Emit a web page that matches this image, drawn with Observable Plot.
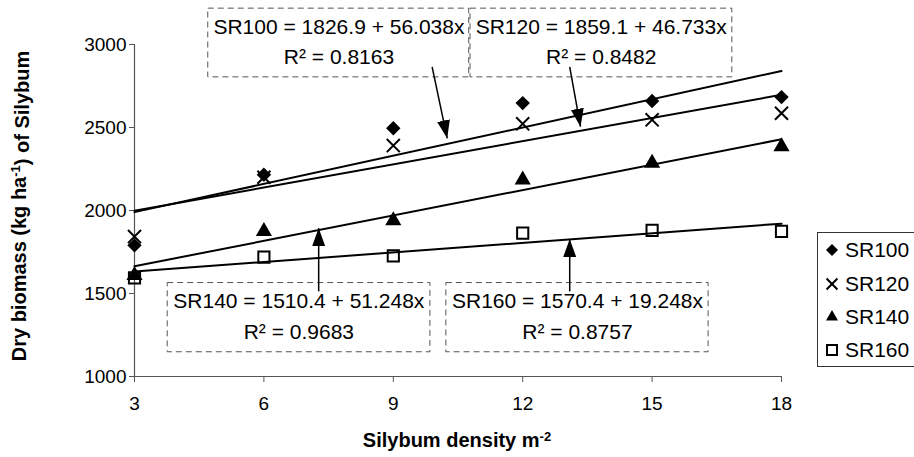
<!DOCTYPE html>
<html><head><meta charset="utf-8">
<script src="https://cdn.jsdelivr.net/npm/d3@7"></script>
<script src="https://cdn.jsdelivr.net/npm/@observablehq/plot@0.6"></script>
<style>body{margin:0;background:#fff} #chart{width:914px;height:457px;overflow:hidden}</style>
</head><body><div id="chart"></div>
<script>
// ---- data ----
const density = [3, 6, 9, 12, 15, 18];
const sr100 = [1790, 2215, 2496, 2647, 2660, 2683];
const sr120 = [1843, 2200, 2391, 2522, 2546, 2586];
const sr140 = [1610, 1874, 1940, 2185, 2285, 2385];
const sr160 = [1594, 1719, 1727, 1864, 1880, 1874];
const seriesNames = ["SR100", "SR120", "SR140", "SR160"];
const xTicks = [3, 6, 9, 12, 15, 18];
const yTicks = [1000, 1500, 2000, 2500, 3000];
const equations = ["SR100 = 1826.9 + 56.038x", "SR120 = 1859.1 + 46.733x", "SR140 = 1510.4 + 51.248x", "SR160 = 1570.4 + 19.248x"];
const r2Labels = ["R\u00B2 = 0.8163", "R\u00B2 = 0.8482", "R\u00B2 = 0.9683", "R\u00B2 = 0.8757"];

// annotation placement (data coordinates)
const boxX1 = [4.71, 10.79, 3.77, 10.23];
const boxX2 = [10.76, 16.86, 9.86, 16.31];
const boxY1 = [2802, 2802, 1146, 1146];
const boxY2 = [3216, 3216, 1563, 1563];
const textX = [7.74, 13.82, 6.81, 13.27];
const line1Y = [3104, 3104, 1452, 1452];
const line2Y = [2921, 2921, 1264, 1264];
const arrowX1 = [9.90, 13.09, 7.27, 13.09];
const arrowY1 = [2865, 2865, 1513, 1513];
const arrowX2 = [10.25, 13.34, 7.27, 13.09];
const arrowY2 = [2435, 2505, 1894, 1828];

const values = [sr100, sr120, sr140, sr160];
const rows = [];
seriesNames.forEach((s, i) => density.forEach((d, j) => rows.push({series: s, x: d, y: values[i][j]})));
const ann = seriesNames.map((s, i) => ({
  x1: boxX1[i], x2: boxX2[i], y1: boxY1[i], y2: boxY2[i],
  tx: textX[i], t1y: line1Y[i], t2y: line2Y[i], eq: equations[i], r2: r2Labels[i],
  ax1: arrowX1[i], ay1: arrowY1[i], ax2: arrowX2[i], ay2: arrowY2[i]
}));
const of = (s) => rows.filter(r => r.series === s);

const FONT = "'Liberation Sans', Arial, sans-serif";
const AX = "#555";

const chart = Plot.plot({
  width: 914, height: 457,
  marginLeft: 134, marginRight: 133, marginTop: 44, marginBottom: 81,
  style: {fontFamily: FONT, background: "white", overflow: "visible"},
  x: {domain: [3, 18], label: null},
  y: {domain: [1000, 3000], label: null},
  marks: [
    Plot.axisX({ticks: xTicks, tickSize: 6, tickPadding: 14, fontSize: 19, stroke: AX, fill: "black", tickFormat: d => String(d), label: null}),
    Plot.axisY({ticks: yTicks, tickSize: 5, tickPadding: 3, fontSize: 19, stroke: AX, fill: "black", tickFormat: d => String(d), label: null}),
    Plot.ruleY([1000], {stroke: AX, strokeWidth: 1.2}),
    Plot.ruleX([3], {stroke: AX, strokeWidth: 1.2}),
    Plot.dot(of("SR100"), {x: "x", y: "y", symbol: "diamond2", fill: "black", stroke: "none", r: 6.5}),
    Plot.dot(of("SR120"), {x: "x", y: "y", symbol: "times", stroke: "black", strokeWidth: 2, r: 6}),
    Plot.dot(of("SR140"), {x: "x", y: "y", symbol: "triangle", fill: "black", stroke: "none", r: 6}),
    Plot.dot(of("SR160"), {x: "x", y: "y", symbol: "square", fill: "none", stroke: "black", strokeWidth: 2, r: 6.3}),
    Plot.linearRegressionY(rows, {x: "x", y: "y", z: "series", stroke: "black", strokeWidth: 2, ci: 0}),
    Plot.rect(ann, {x1: "x1", x2: "x2", y1: "y1", y2: "y2", fill: "white", fillOpacity: 0, stroke: AX, strokeWidth: 1, strokeDasharray: "6,4"}),
    Plot.text(ann, {x: "tx", y: "t1y", text: "eq", fontSize: 21, fill: "black", textAnchor: "middle"}),
    Plot.text(ann, {x: "tx", y: "t2y", text: "r2", fontSize: 21, fill: "black", textAnchor: "middle"}),
    Plot.link(ann, {x1: "ax1", y1: "ay1", x2: "ax2", y2: "ay2", stroke: "black", strokeWidth: 1.5, className: "ann-arrow"})
  ]
});
document.getElementById("chart").appendChild(chart);

const svg = d3.select(chart);
// filled arrowheads
const defs = svg.append("defs");
defs.append("marker").attr("id", "ahead").attr("markerUnits", "userSpaceOnUse")
  .attr("markerWidth", 20).attr("markerHeight", 14).attr("refX", 18).attr("refY", 6.5)
  .attr("orient", "auto").attr("viewBox", "0 0 20 13")
  .append("path").attr("d", "M0,0 L18,6.5 L0,13 Z").attr("fill", "black");
svg.selectAll(".ann-arrow path").attr("marker-end", "url(#ahead)");

// axis titles
const yt = svg.append("text").attr("transform", "translate(26,206) rotate(-90)")
  .attr("text-anchor", "middle").attr("font-family", FONT).attr("font-weight", "bold").attr("font-size", 20).attr("fill", "black");
yt.append("tspan").text("Dry biomass (kg ha");
yt.append("tspan").attr("dy", "-0.45em").attr("font-size", "0.65em").text("-1");
yt.append("tspan").attr("dy", "0.45em").text(") of Silybum");

const xt = svg.append("text").attr("x", 457).attr("y", 447)
  .attr("text-anchor", "middle").attr("font-family", FONT).attr("font-weight", "bold").attr("font-size", 20).attr("fill", "black");
xt.append("tspan").text("Silybum density m");
xt.append("tspan").attr("dy", "-0.45em").attr("font-size", "0.65em").text("-2");

// legend
const lg = svg.append("g").attr("text-anchor", "start");
lg.append("rect").attr("x", 817.5).attr("y", 232.5).attr("width", 130).attr("height", 134).attr("fill", "white").attr("stroke", "#333").attr("stroke-width", 1);
const legSym = [
  {type: d3.symbolDiamond2, size: 92, fill: "black", stroke: "none"},
  {type: d3.symbolTimes, size: 79, fill: "none", stroke: "black"},
  {type: d3.symbolTriangle, size: 62, fill: "black", stroke: "none"},
  {type: d3.symbolSquare, size: 100, fill: "none", stroke: "black"}
];
const legY = [250, 284, 317, 350];
seriesNames.forEach((s, i) => {
  lg.append("path").attr("transform", `translate(832,${legY[i]})`)
    .attr("d", d3.symbol(legSym[i].type, legSym[i].size)())
    .attr("fill", legSym[i].fill).attr("stroke", legSym[i].stroke).attr("stroke-width", 2);
  lg.append("text").attr("x", 845).attr("y", legY[i]).attr("dy", "0.35em").attr("text-anchor", "start")
    .attr("font-family", FONT).attr("font-size", 21).attr("fill", "black").text(s);
});
</script>
</body></html>
